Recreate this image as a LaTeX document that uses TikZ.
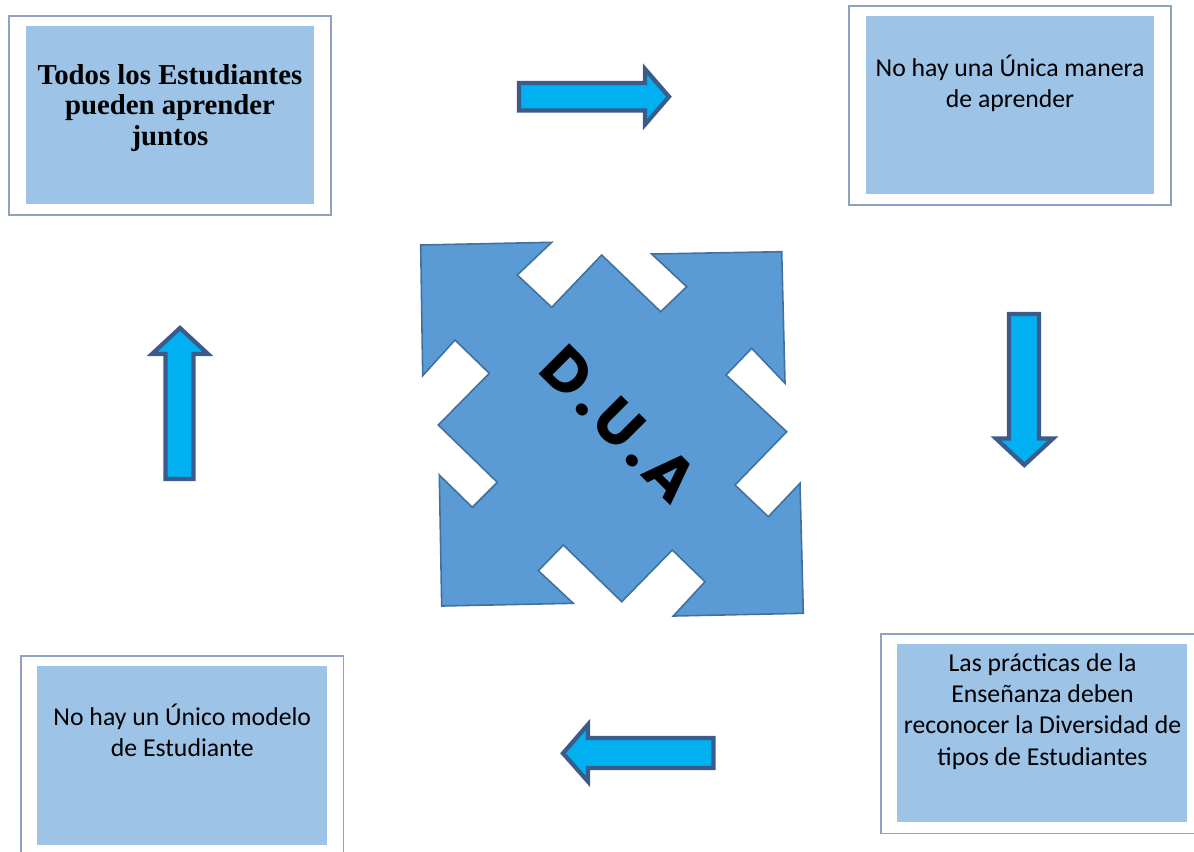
\documentclass[tikz,border=0pt]{standalone}
\usepackage{fontspec}
\setmainfont{Carlito}
\newfontfamily\titlefont{Liberation Serif}
\newfontfamily\duafont[LetterSpace=9]{Poppins}
\usetikzlibrary{calc}

\definecolor{framegray}{HTML}{8FA2BF}
\definecolor{panelblue}{HTML}{9DC3E6}
\definecolor{crossblue}{HTML}{5B9BD5}
\definecolor{crossedge}{HTML}{41719C}
\definecolor{arrowcyan}{HTML}{00B0F0}
\definecolor{arrowedge}{HTML}{3B5C8B}

\tikzset{
 frame/.style={draw=framegray, line width=1.2pt},
 panel/.style={fill=panelblue},
 boxtext/.style={anchor=north, inner sep=0pt, align=center, font=\fontsize{19.3}{23.5}\selectfont},
 blockarrow/.style={fill=arrowcyan, draw=arrowedge, line width=3.2pt, line join=miter},
}

\begin{document}
\begin{tikzpicture}[x=0.75pt, y=-0.75pt]
\useasboundingbox (0,0) rectangle (1194,851);

% boxes
\draw[frame] (9,15.7) rectangle (331,215);
\fill[panel] (25.7,26) rectangle (314.3,204.3);
\draw[frame] (849,5.7) rectangle (1171,205);
\fill[panel] (865.7,16) rectangle (1154.3,194.3);
\draw[frame] (881,634) rectangle (1203,833.3);
\fill[panel] (897.3,644) rectangle (1186.7,822.3);
\draw[frame] (21,656) rectangle (343.3,856);
\fill[panel] (37.3,665.7) rectangle (326.7,845);

\node[boxtext, font=\titlefont\bfseries\fontsize{21.6}{23}\selectfont] (todos) at (170,62.5)
 {\strut Todos los Estudiantes\\pueden aprender\\juntos};
\node[boxtext] (manera) at (1010,54.1) {\strut No hay una Única manera\\de aprender};
\node[boxtext] (practicas) at (1042.5,649.1)
 {\strut Las prácticas de la\\Enseñanza deben\\reconocer la Diversidad de\\tipos de Estudiantes};
\node[boxtext] (modelo) at (182.3,703.1) {\strut No hay un Único modelo\\de Estudiante};

% block arrows
\draw[blockarrow] (519,83) -- (645,83) -- (645,69) -- (669,96.7) -- (645,124.5) -- (645,110.5) -- (519,110.5) -- cycle;
\draw[blockarrow] (1009,314) -- (1039,314) -- (1039,438.5) -- (1053,438.5) -- (1024.3,465) -- (996,438.5) -- (1009,438.5) -- cycle;
\draw[blockarrow] (713.5,738) -- (588,738) -- (588,724.5) -- (563,753.3) -- (588,781.5) -- (588,768) -- (713.5,768) -- cycle;
\draw[blockarrow] (165.5,479) -- (165.5,354) -- (152,354) -- (180,328) -- (208,354) -- (193.5,354) -- (193.5,479) -- cycle;

% quad arrow
\draw[fill=crossblue, draw=crossedge, line width=1.2pt, line join=miter]
 (420.7,245) -- (551.7,242.3) -- (517.3,275) -- (551.7,307.3) -- (601.7,255) -- (660.7,311.7)
 -- (686.7,286.7) -- (651.7,254) -- (781.7,251.7) -- (785,383.3) -- (751.7,348.3) -- (726,375)
 -- (786.7,431.7) -- (735,485) -- (768.3,516.7) -- (800,483.3) -- (803.3,613.3) -- (673.3,616)
 -- (705,581.7) -- (672.3,550) -- (621.7,601.7) -- (563.3,545) -- (538.3,570.7) -- (573.3,603.3)
 -- (441.7,606) -- (439.3,475) -- (472.3,507.3) -- (497.3,482.3) -- (438.3,425) -- (489.3,373.3)
 -- (455,340) -- (422.7,375.7) -- cycle;
\node[rotate=-45, inner sep=0pt, font=\duafont\bfseries\fontsize{46}{46}\selectfont] (dua) at (619,424) {D.U.A};
\end{tikzpicture}
\end{document}
